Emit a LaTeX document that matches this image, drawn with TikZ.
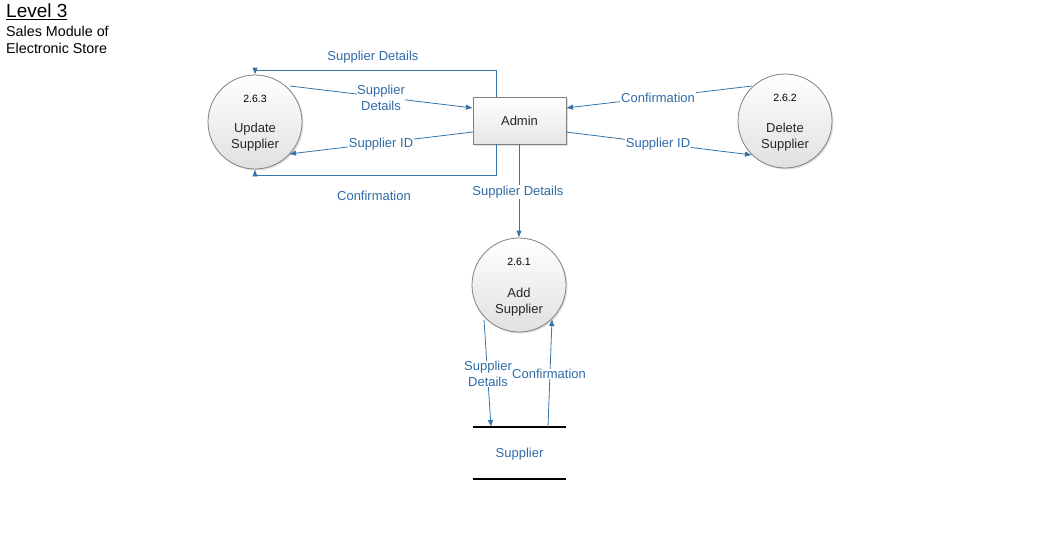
\documentclass[tikz,border=0pt]{standalone}
\usepackage{fontspec}
\setmainfont{Liberation Sans}
\usetikzlibrary{arrows.meta,shadows}
\definecolor{flow}{HTML}{3574A9}
\definecolor{flowtext}{HTML}{2F6CA8}
\definecolor{proc}{HTML}{808080}
\tikzset{
  x=1pt,y=-1pt,
  proccircle/.style={circle,draw=proc,line width=0.8pt,minimum size=94pt,inner sep=0pt,
     top color=white,bottom color=black!12,drop shadow={shadow xshift=1.5pt,shadow yshift=-1.5pt,opacity=0.25}},
  procbox/.style={rectangle,draw=proc,line width=0.8pt,minimum width=93pt,minimum height=47pt,inner sep=0pt,
     top color=white,bottom color=black!10,drop shadow={shadow xshift=1.5pt,shadow yshift=-1.5pt,opacity=0.25},
     font=\fontsize{13}{15}\selectfont,text=black!85},
  numtext/.style={font=\fontsize{10.5}{12}\selectfont,text=black,inner sep=0pt},
  proctext/.style={font=\fontsize{13}{16}\selectfont,text=black!85,align=center,inner sep=0pt},
  flowline/.style={draw=flow,line width=0.8pt,-{Latex[length=7pt,width=5.5pt]}},
  flowlabel/.style={font=\fontsize{13}{16}\selectfont,text=flowtext,fill=white,inner sep=1pt,align=center},
  storeline/.style={draw=black,line width=2.4pt},
  title/.style={font=\fontsize{19}{21}\selectfont,inner sep=0pt,anchor=north west},
  subtitle/.style={font=\fontsize{14.3}{16.5}\selectfont,inner sep=0pt,anchor=north west,align=left},
}
\begin{document}
\begin{tikzpicture}
\useasboundingbox (0,0) rectangle (1043,549);
% titles
\node[title] (ttl) at (6,4) {\underline{Level 3}};
\node[subtitle] (sub) at (6,26) {Sales Module of\\Electronic Store};
% processes
\node[proccircle] (upd) at (255,122) {};
\node[numtext] (updn) at (255,99) {2.6.3};
\node[proctext] (updt) at (255,137) {Update\\Supplier};
\node[proccircle] (del) at (785,121) {};
\node[numtext] (deln) at (785,98) {2.6.2};
\node[proctext] (delt) at (785,137) {Delete\\Supplier};
\node[proccircle] (add) at (519,285) {};
\node[numtext] (addn) at (519,262) {2.6.1};
\node[proctext] (addt) at (519,302) {Add\\Supplier};
\node[procbox] (adm) at (519.5,120.5) {Admin};
% data store
\coordinate (sA) at (473,427);
\coordinate (sB) at (566,427);
\coordinate (sC) at (473,479);
\coordinate (sD) at (566,479);
\draw[storeline] (sA) -- (sB);
\draw[storeline] (sC) -- (sD);
\node[font=\fontsize{13}{15}\selectfont,text=flowtext] (store) at (519.5,454) {Supplier};
% flows to/from update
\coordinate (a1) at (496,97);
\coordinate (a1b) at (496,70);
\coordinate (a1c) at (255,70);
\draw[flowline] (a1) -- (a1b) -- (a1c) -- (upd.north);
\node[flowlabel] (l1) at (373,57) {Supplier Details};
\coordinate (u2) at (290,86);
\coordinate (a2) at (473,108);
\draw[flowline] (u2) -- (a2);
\node[flowlabel,inner sep=0pt] (l2) at (381,98) {Supplier\\Details};
\coordinate (a3) at (473,132);
\coordinate (u3) at (289,154);
\draw[flowline] (a3) -- (u3);
\node[flowlabel] (l3) at (381,144) {Supplier ID};
\coordinate (a4) at (496,144);
\coordinate (a4b) at (496,175);
\coordinate (a4c) at (255,175);
\draw[flowline] (a4) -- (a4b) -- (a4c) -- (upd.south);
\node[flowlabel] (l4) at (374,196) {Confirmation};
% flows to/from delete
\coordinate (d5) at (752,86);
\coordinate (a5) at (566,108);
\draw[flowline] (d5) -- (a5);
\node[flowlabel] (l5) at (658,98) {Confirmation};
\coordinate (a6) at (566,132);
\coordinate (d6) at (752,155);
\draw[flowline] (a6) -- (d6);
\node[flowlabel] (l6) at (658,144) {Supplier ID};
% admin to add
\coordinate (a7) at (519,144);
\draw[flowline] (a7) -- (add.north);
\node[flowlabel] (l7) at (518,192) {Supplier Details};
% add to store
\coordinate (p8) at (484,320);
\coordinate (s8) at (491,427);
\draw[flowline] (p8) -- (s8);
\node[flowlabel,inner sep=0pt] (l8) at (488,374) {Supplier\\Details};
\coordinate (s9) at (548,427);
\coordinate (p9) at (552,319);
\draw[flowline] (s9) -- (p9);
\node[flowlabel,inner sep=0pt] (l9) at (549,374) {Confirmation};
\end{tikzpicture}
\end{document}
